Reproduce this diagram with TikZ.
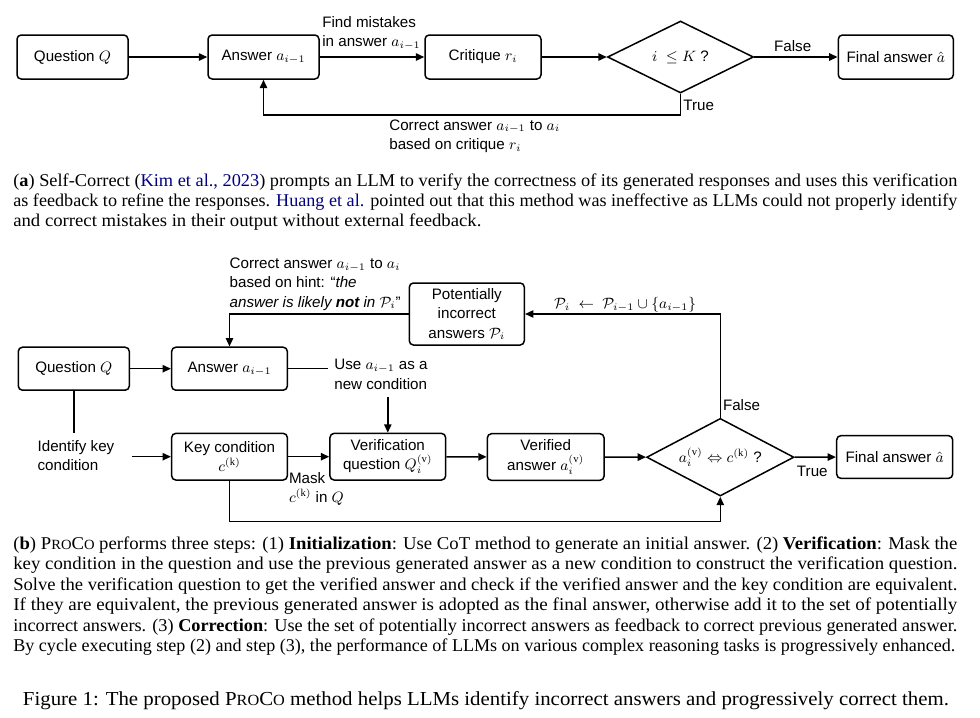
\documentclass[tikz,border=0pt]{standalone}
\usepackage{amsmath,amssymb}
\usepackage{graphicx}
\usepackage{fontspec}
\setmainfont{Liberation Serif}
\setsansfont{Liberation Sans}
\usetikzlibrary{shapes.geometric,arrows.meta}
\definecolor{citeblue}{rgb}{0,0,0.5}
\newcommand{\pco}{P\scalebox{0.78}{RO}C\scalebox{0.78}{O}}
\newcommand{\capl}[2]{\resizebox{#1}{\height}{#2}}
\newcommand{\dfont}{\sffamily\fontsize{9.1}{11.6}\selectfont}
\newcommand{\capfont}{\rmfamily\fontsize{10.8}{12}\selectfont}
\newcommand{\figfont}{\rmfamily\fontsize{11.9}{13}\selectfont}
\tikzset{
  box/.style={draw, rounded corners=2.5pt, line width=0.9pt, minimum height=26pt, inner sep=1pt, align=center, font=\dfont},
  dia/.style={draw, diamond, aspect=2, inner sep=0pt, line width=0.9pt, font=\dfont},
  arr/.style={line width=0.9pt, -{Triangle[length=5pt,width=4.4pt]}},
  ln/.style={line width=0.9pt},
  lbl/.style={inner sep=0pt, align=left, font=\dfont},
  capt/.style={inner sep=0pt, anchor=base west, font=\capfont}
}
\begin{document}
\begin{tikzpicture}[x=0.6pt,y=-0.6pt]
\useasboundingbox (0,0) rectangle (980,717);
% ---------------- (a) ----------------
\node[box, minimum width=66.6pt, minimum height=26.4pt] (q1) at (72.5,57) {Question $Q$};
\node[box, minimum width=66.6pt, minimum height=26.4pt] (a1) at (263.5,57) {Answer $a_{i-1}$};
\node[box, minimum width=69.6pt, minimum height=26.4pt] (c1) at (483,57) {Critique $r_i$};
\node[dia, minimum width=87.6pt, minimum height=43.2pt] (d1) at (680.5,57) {$i\ \le K$ ?};
\node[box, minimum width=69pt, minimum height=26.4pt] (f1) at (895.8,57) {Final answer $\hat{a}$};
\draw[arr] (q1) -- (a1);
\draw[arr] (a1) -- (c1);
\draw[arr] (c1) -- (d1);
\draw[arr] (d1) -- (f1);
\draw[arr] (d1.south) -- ++(0,21.3) -| (a1.south);
\node[lbl, anchor=west] (fm) at (322,32.7) {Find mistakes\\in answer $a_{i-1}$};
\node[lbl] (fa1) at (792.7,45.7) {False};
\node[lbl, anchor=west] (tr1) at (683,105) {True};
\node[lbl, anchor=west] (ca1) at (389,136.2) {Correct answer $a_{i-1}$ to $a_i$\\based on critique $r_i$};
% caption (a)
\node[capt] (la1) at (13,186.7) {\capl{566.4pt}{(\textbf{a}) Self-Correct (\textcolor{citeblue}{Kim et al., 2023}) prompts an LLM to verify the correctness of its generated responses and uses this verification}};
\node[capt] (la2) at (13,206.3) {\capl{566.4pt}{as feedback to refine the responses. \textcolor{citeblue}{Huang et al.} pointed out that this method was ineffective as LLMs could not properly identify}};
\node[capt] (la3) at (13,226) {\capl{280.8pt}{and correct mistakes in their output without external feedback.}};
% ---------------- (b) ----------------
\node[box, minimum width=66.6pt, minimum height=25.8pt] (q2) at (73.8,368.7) {Question $Q$};
\node[box, minimum width=69.4pt, minimum height=25.8pt] (a2) at (229.5,368.7) {Answer $a_{i-1}$};
\node[box, minimum width=69pt, minimum height=37.2pt] (p2) at (466.8,314) {Potentially\\incorrect\\answers $\mathcal{P}_i$};
\node[box, minimum width=69.4pt, minimum height=28pt] (k2) at (229.5,456.7) {Key condition\\$c^{(\mathrm{k})}$};
\node[box, minimum width=69.4pt, minimum height=28pt] (v2) at (387.8,456.7) {Verification\\question $Q_i^{(\mathrm{v})}$};
\node[box, minimum width=70pt, minimum height=28pt] (va2) at (545.7,457) {Verified\\answer $a_i^{(\mathrm{v})}$};
\node[dia, minimum width=88.4pt, minimum height=46.6pt] (d2) at (720.3,457.2) {$a_i^{(\mathrm{v})} \Leftrightarrow c^{(\mathrm{k})}$ ?};
\node[box, minimum width=69.6pt, minimum height=25.6pt] (f2) at (894.7,457) {Final answer $\hat{a}$};
\coordinate (ue) at (328.3,368.7);
\coordinate (vs) at (387.8,396.7);
\coordinate (ik) at (73.8,432.7);
\coordinate (ka) at (131.7,456.7);
\draw[arr] (q2) -- (a2);
\draw[arr] (p2.west) -| (a2.north);
\draw[ln] (a2.east) -- (ue);
\draw[arr] (vs) -- (v2.north);
\draw[ln] (q2.south) -- (ik);
\draw[arr] (ka) -- (k2.west);
\draw[arr] (k2) -- (v2);
\draw[arr] (v2) -- (va2);
\draw[arr] (va2) -- (d2);
\draw[arr] (d2) -- (f2);
\draw[arr] (k2.south) -- ++(0,40.7) -| (d2.south);
\draw[arr] (d2.north) |- (p2.east);
\node[lbl, anchor=west] (hint) at (229.3,284.2) {Correct answer $a_{i-1}$ to $a_i$\\based on hint: “\textit{the}\\\textit{answer is likely \textbf{not} in} $\mathcal{P}_i$”};
\node[lbl, anchor=west] (use) at (334,374.5) {Use $a_{i-1}$ as a\\new condition};
\node[lbl, anchor=west] (idk) at (37.3,455.3) {Identify key\\condition};
\node[lbl, anchor=west] (mask) at (288.7,488.8) {Mask\\$c^{(\mathrm{k})}$ in $Q$};
\node[lbl, anchor=west] (fa2) at (722.7,405) {False};
\node[lbl] (tr2) at (812.3,471) {True};
\node[lbl] (upd) at (625,305) {$\mathcal{P}_i\ \leftarrow\ \mathcal{P}_{i-1}\cup\{a_{i-1}\}$};
% caption (b)
\node[capt] (lb1) at (13,549.3) {\capl{566.4pt}{(\textbf{b}) \pco{} performs three steps: (1) \textbf{Initialization}: Use CoT method to generate an initial answer. (2) \textbf{Verification}: Mask the}};
\node[capt] (lb2) at (13,569.5) {\capl{566.4pt}{key condition in the question and use the previous generated answer as a new condition to construct the verification question.}};
\node[capt] (lb3) at (13,590) {\capl{566.4pt}{Solve the verification question to get the verified answer and check if the verified answer and the key condition are equivalent.}};
\node[capt] (lb4) at (13,610.7) {\capl{566.4pt}{If they are equivalent, the previous generated answer is adopted as the final answer, otherwise add it to the set of potentially}};
\node[capt] (lb5) at (13,631.3) {\capl{566.4pt}{incorrect answers. (3) \textbf{Correction}: Use the set of potentially incorrect answers as feedback to correct previous generated answer.}};
\node[capt] (lb6) at (13,651.7) {\capl{565.2pt}{By cycle executing step (2) and step (3), the performance of LLMs on various complex reasoning tasks is progressively enhanced.}};
% figure caption
\node[inner sep=0pt, anchor=base, font=\figfont] (fig) at (486,705) {\capl{555.6pt}{Figure 1: The proposed \pco{} method helps LLMs identify incorrect answers and progressively correct them.}};
\end{tikzpicture}
\end{document}
